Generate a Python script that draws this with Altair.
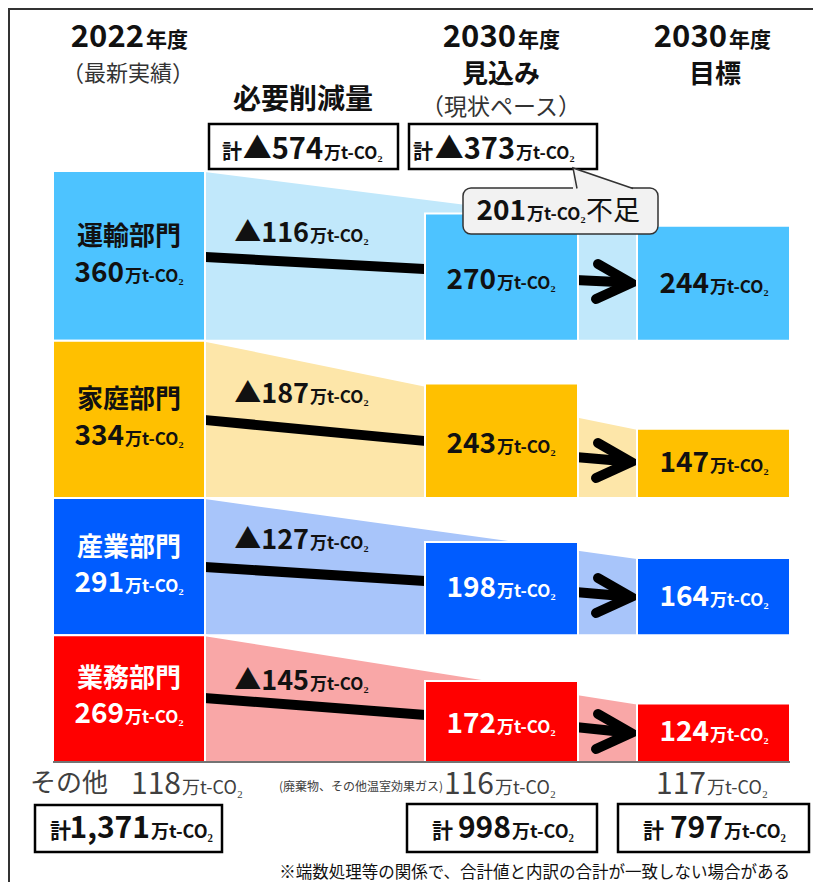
import altair as alt
import pandas as pd

# ---------------- data ----------------
sectors = ["運輸部門", "家庭部門", "産業部門", "業務部門"]
actual_2022 = [360, 334, 291, 269]
outlook_2030 = [270, 243, 198, 172]
target_2030 = [244, 147, 164, 124]
required_cut = [116, 187, 127, 145]
other_gases = [118, 116, 117]
totals = [1371, 998, 797]
total_required_cut = 574
outlook_cut = 373
shortfall = 201

bar_colors = ["#4DC3FF", "#FFC000", "#005CFF", "#FF0000"]
light_colors = ["#C1E8FB", "#FDE6A9", "#A8C5FA", "#F9A7A7"]
text_colors = ["#111111", "#111111", "#FFFFFF", "#FFFFFF"]

UNIT = "万t-CO₂"
FONT = "Noto Sans CJK JP"

# ---------------- layout (page pixels) ----------------
W, H = 805, 874
P0 = 8
PX_PER_UNIT = 591 / 1254
BASE_Y = 762
x_scale = alt.Scale(domain=[P0, P0 + W], nice=False, zero=False)
y_val = alt.Scale(domain=[(BASE_Y - P0 - H) / PX_PER_UNIT, (BASE_Y - P0) / PX_PER_UNIT],
                  nice=False, zero=False)
y_pix = alt.Scale(domain=[P0, P0 + H], reverse=True, nice=False, zero=False)

cols = [(53, 205), (425, 578), (637, 790)]
name_y = [236.5, 400, 547.5, 679]
v22_base = [282, 445, 592, 723]
cut_base = [242, 403, 549, 690]
out_base = [289, 453, 597, 733]
tgt_base = [293, 472, 606, 741]
cut_line_y0 = [257, 420, 567, 698]
cut_line_y1 = [269, 441, 581, 715]
arrow_y0 = [280, 457, 592, 727]
arrow_tip = [283, 462, 597, 733]

bases = [sum(actual_2022[i + 1:]) for i in range(len(sectors))]
series = [actual_2022, outlook_2030, target_2030]

def X(f="x"):
    return alt.X(f"{f}:Q", scale=x_scale, axis=None)

def YP(f="y"):
    return alt.Y(f"{f}:Q", scale=y_pix, axis=None)

def YV(f="y"):
    return alt.Y(f"{f}:Q", scale=y_val, axis=None)

# ---- light connecting areas ----
area_rows = []
for i, s in enumerate(sectors):
    area_rows.append(dict(sector=s, x=cols[0][1], top=bases[i] + actual_2022[i], bot=bases[i], c=light_colors[i]))
    area_rows.append(dict(sector=s, x=cols[2][0], top=bases[i] + target_2030[i], bot=bases[i], c=light_colors[i]))
areas = alt.Chart(pd.DataFrame(area_rows)).mark_area(stroke="white", strokeWidth=2).encode(
    x=X(), y=YV("top"), y2="bot:Q", color=alt.Color("c:N", scale=None), detail="sector:N")

# ---- reduction lines ----
line_rows = []
for i, s in enumerate(sectors):
    x0, x1 = cols[0][1], cols[1][0]
    slope = (cut_line_y1[i] - cut_line_y0[i]) / (x1 - x0)
    line_rows.append(dict(id=s, k=0, x=x0 - 4, y=cut_line_y0[i] - 4 * slope))
    line_rows.append(dict(id=s, k=1, x=x1 + 4, y=cut_line_y1[i] + 4 * slope))
cut_lines = alt.Chart(pd.DataFrame(line_rows)).mark_line(
    color="black", strokeWidth=10, strokeCap="butt").encode(
    x=X(), y=YP(), detail="id:N", order="k:Q")

# ---- arrows ----
arrow_rows = []
for i, s in enumerate(sectors):
    arrow_rows += [dict(id=f"s{i}", k=0, x=cols[1][1] - 3, y=arrow_y0[i]),
                   dict(id=f"s{i}", k=1, x=628, y=arrow_tip[i] - 0.5)]
    arrow_rows += [dict(id=f"c{i}", k=0, x=598, y=arrow_tip[i] - 19),
                   dict(id=f"c{i}", k=1, x=631, y=arrow_tip[i]),
                   dict(id=f"c{i}", k=2, x=596, y=arrow_tip[i] + 16)]
arrows = alt.Chart(pd.DataFrame(arrow_rows)).mark_line(
    color="black", strokeWidth=10, strokeCap="round", strokeJoin="miter").encode(
    x=X(), y=YP(), detail="id:N", order="k:Q")

# ---- bars ----
bar_rows = []
for i, s in enumerate(sectors):
    for j, (x0, x1) in enumerate(cols):
        bar_rows.append(dict(sector=s, x=x0, x2=x1, y=bases[i], y2=bases[i] + series[j][i], c=bar_colors[i]))
bars = alt.Chart(pd.DataFrame(bar_rows)).mark_rect(stroke="white", strokeWidth=2).encode(
    x=X(), x2="x2:Q", y=YV(), y2="y2:Q", color=alt.Color("c:N", scale=None))

base_rule = alt.Chart(pd.DataFrame([dict(x=cols[0][0], x2=cols[2][1], y=0)])).mark_rule(
    color="#444444", strokeWidth=1.5).encode(x=X(), x2="x2:Q", y=YV())

# ---- boxes ----
box_rows = [dict(x=209, x2=398, y=124, y2=169), dict(x=409, x2=597, y=124, y2=169),
            dict(x=35, x2=222, y=805, y2=852), dict(x=407, x2=597, y=804, y2=852),
            dict(x=618, x2=809, y=804, y2=852)]
boxes = alt.Chart(pd.DataFrame(box_rows)).mark_rect(
    fill="white", stroke="black", strokeWidth=2.5).encode(x=X(), x2="x2:Q", y=YP(), y2="y2:Q")

bubble = alt.Chart(pd.DataFrame([dict(x=463, x2=658, y=188, y2=234)])).mark_rect(
    fill="#F2F2F2", stroke="#333333", strokeWidth=1.5, cornerRadius=8).encode(
    x=X(), x2="x2:Q", y=YP(), y2="y2:Q")
tail_fill = alt.Chart(pd.DataFrame([dict(x=573, y=168, y2=191), dict(x=636, y=190, y2=191)])).mark_area(
    color="#F2F2F2").encode(x=X(), y=YP(), y2="y2:Q")
tail_edge = alt.Chart(pd.DataFrame([dict(k=0, x=577, y=188.5), dict(k=1, x=573, y=168),
                                    dict(k=2, x=633, y=188.5)])).mark_line(
    color="#333333", strokeWidth=1.5).encode(x=X(), y=YP(), order="k:Q")

# ---- frame ----
frame = alt.Chart(pd.DataFrame([dict(x=P0, x2=P0 + W, y=9, y2=9), dict(x=9, x2=9, y=P0, y2=P0 + H)])).mark_rule(
    color="#333333", strokeWidth=2).encode(x=X(), x2="x2:Q", y=YP(), y2="y2:Q")

# ---- texts ----
labels = []
def lab(text, x, y, size, weight="bold", align="center", baseline="middle", color="#111111"):
    labels.append(dict(text=text, x=x, y=y, size=size, weight=weight, align=align,
                       baseline=baseline, color=color))

def num_unit(num, split, base, size, color="#111111", weight="bold", usize=17):
    lab(num, split, base, size, weight=weight, align="right", baseline="alphabetic", color=color)
    lab(UNIT, split + 1, base, usize, weight=weight, align="left", baseline="alphabetic", color=color)

# headers
for split, cx in [(145, 129), (517, 501), (728, 713)]:
    yr = "2022" if cx == 129 else "2030"
    lab(yr, split - 1, 47, 31, align="right", baseline="alphabetic")
    lab("年度", split + 1, 47, 21, align="left", baseline="alphabetic")
lab("（最新実績）", 128, 74, 22, weight="normal", color="#333333")
lab("必要削減量", 303, 101, 28)
lab("見込み", 501, 75, 26)
lab("（現状ペース）", 501, 108, 23, weight="normal", color="#333333")
lab("目標", 715, 75, 26)

# top boxes
lab("計", 222, 159, 20, align="left", baseline="alphabetic")
num_unit(f"▲{total_required_cut}", 323, 159, 29)
lab("計", 413, 159, 20, align="left", baseline="alphabetic")
num_unit(f"▲{outlook_cut}", 515, 159, 29)

# bubble
num_unit(f"{shortfall}", 526, 220, 28)
lab("不足", 586, 220, 27, weight="normal", align="left", baseline="alphabetic")

# sector labels
for i, s in enumerate(sectors):
    tc = text_colors[i]
    lab(s, 129, name_y[i], 26, color=tc)
    num_unit(f"{actual_2022[i]}", 124, v22_base[i], 28, color=tc)
    num_unit(f"▲{required_cut[i]}", 309, cut_base[i], 27)
    num_unit(f"{outlook_2030[i]}", 496, out_base[i], 28, color=tc)
    num_unit(f"{target_2030[i]}", 709, tgt_base[i], 28, color=tc)

# bottom
lab("その他", 30, 784, 26, weight="normal", align="left", color="#404040")
for split, v in zip([181, 494, 706], other_gases):
    num_unit(f"{v}", split, 794, 30, color="#404040", weight="normal", usize=18)
lab("(廃棄物、その他温室効果ガス)", 443, 787, 12, weight="normal", align="right", color="#404040")

for (cx, split), t in zip([(50, 150), (432, 511), (643, 723)], totals):
    lab("計", cx, 838, 21, align="left", baseline="alphabetic")
    num_unit(f"{t:,}", split, 838, 30, usize=18)

lab("※端数処理等の関係で、合計値と内訳の合計が一致しない場合がある", 790, 873, 16.5,
    weight="normal", align="right")

ldf = pd.DataFrame(labels)
text_layers = []
for (al, bl, wt), sub in ldf.groupby(["align", "baseline", "weight"]):
    text_layers.append(
        alt.Chart(sub).mark_text(align=al, baseline=bl, fontWeight=wt, font=FONT).encode(
            x=X(), y=YP(), text="text:N",
            size=alt.Size("size:Q", scale=None, legend=None),
            color=alt.Color("color:N", scale=None)))

chart = alt.layer(
    areas, cut_lines, arrows, bars, base_rule, boxes, bubble, tail_fill, tail_edge, frame, *text_layers
).resolve_scale(y="independent").properties(
    width=W, height=H, padding=0, autosize="none"
).configure_view(stroke=None)

chart.save("out.html", embed_options={"renderer": "svg", "actions": False})
